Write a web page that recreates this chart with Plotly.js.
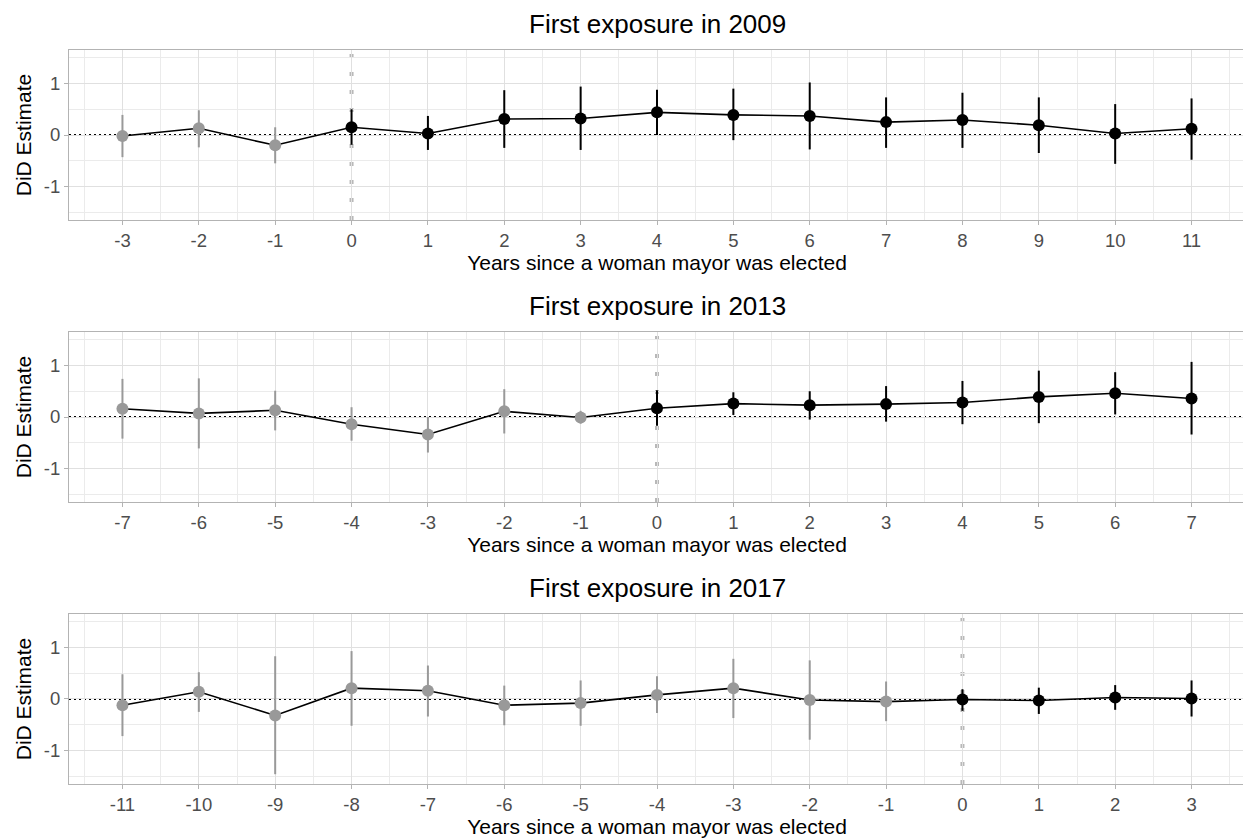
<!DOCTYPE html>
<html>
<head>
<meta charset="utf-8">
<script src="https://cdn.plot.ly/plotly-3.0.1.min.js"></script>
<style>
html, body { margin: 0; padding: 0; overflow: hidden; background: #fff; }
#chart { width: 1246px; height: 839px; }
</style>
</head>
<body>
<div id="chart"></div>
<script>
// ---- Data ----
const panelTitles = ["First exposure in 2009", "First exposure in 2013", "First exposure in 2017"];
const xTitle = "Years since a woman mayor was elected";
const yTitle = "DiD Estimate";

const years2009 = [-3, -2, -1, 0, 1, 2, 3, 4, 5, 6, 7, 8, 9, 10, 11];
const est2009   = [-0.02, 0.13, -0.20, 0.15, 0.03, 0.31, 0.32, 0.44, 0.39, 0.37, 0.25, 0.29, 0.19, 0.03, 0.12];
const low2009   = [-0.43, -0.24, -0.55, -0.19, -0.29, -0.25, -0.29, 0.00, -0.10, -0.28, -0.25, -0.25, -0.35, -0.56, -0.48];
const high2009  = [0.39, 0.48, 0.15, 0.50, 0.37, 0.87, 0.94, 0.88, 0.90, 1.02, 0.73, 0.82, 0.73, 0.60, 0.71];

const years2013 = [-7, -6, -5, -4, -3, -2, -1, 0, 1, 2, 3, 4, 5, 6, 7];
const est2013   = [0.16, 0.07, 0.13, -0.14, -0.34, 0.11, -0.01, 0.17, 0.26, 0.23, 0.25, 0.28, 0.39, 0.46, 0.36];
const low2013   = [-0.42, -0.61, -0.26, -0.46, -0.69, -0.32, -0.13, -0.17, 0.04, -0.05, -0.09, -0.14, -0.12, 0.05, -0.34];
const high2013  = [0.74, 0.75, 0.51, 0.19, 0.00, 0.54, 0.12, 0.52, 0.48, 0.50, 0.60, 0.70, 0.90, 0.87, 1.07];

const years2017 = [-11, -10, -9, -8, -7, -6, -5, -4, -3, -2, -1, 0, 1, 2, 3];
const est2017   = [-0.12, 0.14, -0.32, 0.21, 0.16, -0.12, -0.08, 0.08, 0.21, -0.02, -0.05, -0.01, -0.03, 0.03, 0.01];
const low2017   = [-0.72, -0.25, -1.46, -0.52, -0.34, -0.51, -0.52, -0.27, -0.37, -0.79, -0.43, -0.23, -0.29, -0.21, -0.34];
const high2017  = [0.48, 0.52, 0.83, 0.93, 0.65, 0.26, 0.36, 0.44, 0.78, 0.75, 0.34, 0.19, 0.22, 0.27, 0.36];

const yTickVals = [-1, 0, 1];
const yTickText = ["-1", "0", "1"];

// ---- Styling ----
const FONT = "Liberation Sans, Arial, Helvetica, sans-serif";
const PRE = "#999999";
const POST = "#000000";
const domains = [[0.76839, 1.0], [0.38420, 0.61580], [0.0, 0.23161]];

const panels = [
  {x: years2009, est: est2009, lo: low2009, hi: high2009},
  {x: years2013, est: est2013, lo: low2013, hi: high2013},
  {x: years2017, est: est2017, lo: low2017, hi: high2017}
];

const traces = [];
const layout = {
  width: 1246, height: 839,
  margin: {l: 69, r: 1, t: 50, b: 55},
  paper_bgcolor: "#ffffff", plot_bgcolor: "#ffffff",
  showlegend: false,
  font: {family: FONT, color: "#000"},
  shapes: [], annotations: []
};

panels.forEach((p, i) => {
  const n = i + 1;
  const xa = n === 1 ? "x" : "x" + n;
  const ya = n === 1 ? "y" : "y" + n;
  const xmin = Math.min(...p.x), xmax = Math.max(...p.x);
  const pad = (xmax - xmin) * 0.05;

  // connecting line
  traces.push({x: p.x, y: p.est, xaxis: xa, yaxis: ya, type: "scatter", mode: "lines",
    line: {color: "#000", width: 1.6}, hoverinfo: "skip"});

  // pre and post groups
  [[v => v < 0, PRE], [v => v >= 0, POST]].forEach(([test, col]) => {
    const idx = p.x.map((v, k) => test(v) ? k : -1).filter(k => k >= 0);
    traces.push({
      x: idx.map(k => p.x[k]), y: idx.map(k => p.est[k]),
      xaxis: xa, yaxis: ya, type: "scatter", mode: "markers",
      marker: {color: col, size: 12},
      error_y: {type: "data", symmetric: false,
        array: idx.map(k => p.hi[k] - p.est[k]),
        arrayminus: idx.map(k => p.est[k] - p.lo[k]),
        color: col, thickness: 2, width: 0}
    });
  });

  layout["xaxis" + (n === 1 ? "" : n)] = {
    anchor: ya, domain: [0, 1],
    range: [xmin - pad, xmax + pad],
    tickmode: "array", tickvals: p.x, ticktext: p.x.map(String),
    ticks: "outside", ticklen: 4, tickcolor: "#b3b3b3", tickwidth: 1,
    tickfont: {family: FONT, size: 18.5, color: "#4d4d4d"},
    showgrid: true, gridcolor: "#e0e0e0", gridwidth: 1,
    minor: {tickmode: "linear", tick0: 0.5, dtick: 1, showgrid: true, gridcolor: "#ebebeb", gridwidth: 1, ticks: ""},
    zeroline: false, showline: true, mirror: true, linecolor: "#b3b3b3", linewidth: 1,
    title: {text: xTitle, font: {family: FONT, size: 21, color: "#000"}, standoff: 4},
    automargin: false
  };
  layout["yaxis" + (n === 1 ? "" : n)] = {
    anchor: xa, domain: domains[i],
    range: [-1.65, 1.65],
    tickmode: "array", tickvals: yTickVals, ticktext: yTickText,
    ticks: "outside", ticklen: 4, tickcolor: "#b3b3b3", tickwidth: 1,
    tickfont: {family: FONT, size: 18.5, color: "#4d4d4d"},
    showgrid: true, gridcolor: "#e0e0e0", gridwidth: 1,
    minor: {tickmode: "array", tickvals: [-1.5, -0.5, 0.5, 1.5], showgrid: true, gridcolor: "#ebebeb", gridwidth: 1, ticks: ""},
    zeroline: false, showline: true, mirror: true, linecolor: "#b3b3b3", linewidth: 1,
    title: {text: yTitle, font: {family: FONT, size: 21, color: "#000"}, standoff: 6},
    automargin: false
  };

  // reference lines
  layout.shapes.push({type: "line", xref: xa + " domain", yref: ya, x0: 0, x1: 1, y0: 0, y1: 0,
    line: {color: "#000", width: 2, dash: "2px,3px"}, layer: "below"});
  layout.shapes.push({type: "line", xref: xa, yref: ya + " domain", x0: 0, x1: 0, y0: 0, y1: 1,
    line: {color: "#b8b8b8", width: 4, dash: "4px,14px"}, layer: "below"});

  // panel title
  layout.annotations.push({text: panelTitles[i], xref: xa + " domain", yref: ya + " domain",
    x: 0.5, y: 1, yanchor: "bottom", xanchor: "center", yshift: 9, showarrow: false,
    font: {family: FONT, size: 26, color: "#000"}});
});

Plotly.newPlot("chart", traces, layout, {displayModeBar: false, staticPlot: true});
</script>
</body>
</html>
